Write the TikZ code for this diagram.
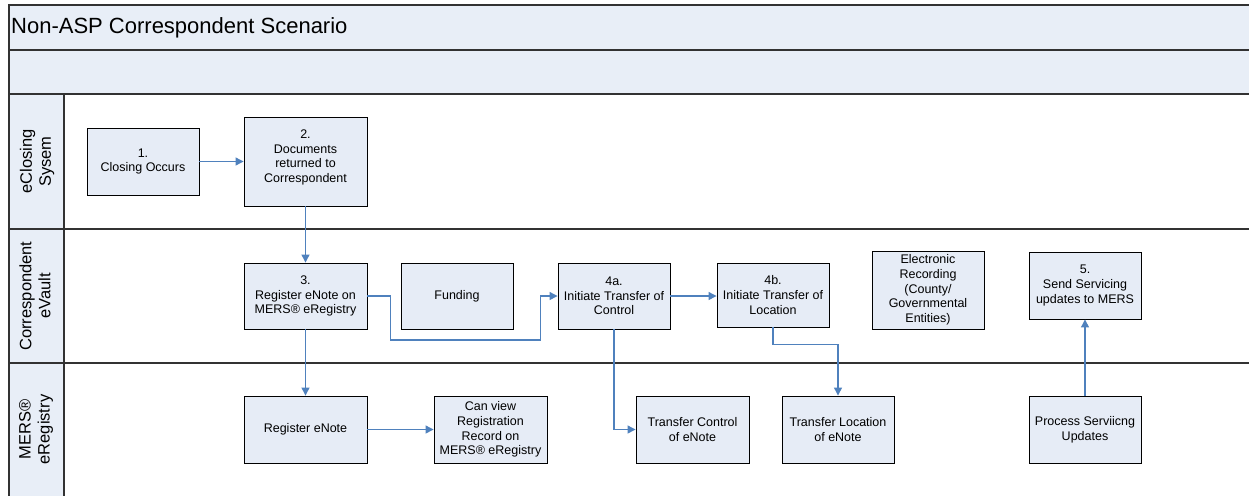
\documentclass[tikz,border=0pt]{standalone}
\usepackage{fontspec}
\setmainfont{Liberation Sans}
\usetikzlibrary{arrows.meta}
\definecolor{boxfill}{RGB}{230,236,246}
\definecolor{bandfill}{RGB}{232,238,247}
\definecolor{arrowblue}{RGB}{79,129,189}
\definecolor{frameline}{RGB}{50,50,50}
\tikzset{
  box/.style={draw=black, fill=boxfill, line width=0.9pt, align=center, inner sep=1pt,
    font=\fontsize{12.5}{14.7}\selectfont},
  lanelabel/.style={align=center, rotate=90, inner sep=0pt, font=\fontsize{16.5}{19}\selectfont},
  arr/.style={draw=arrowblue, line width=1.2pt, -{Triangle[length=8pt,width=8pt]}},
  frame/.style={draw=frameline, line width=1.3pt},
}
\begin{document}
\begin{tikzpicture}[x=1pt,y=-1pt]
\useasboundingbox (0,0) rectangle (1249,496);
% background bands
\fill[bandfill] (9,5) rectangle (1249,94);
\fill[bandfill] (9,94) rectangle (64,496);
% frame lines
\draw[frame] (1249,5) -- (9,5) -- (9,496);
\draw[frame] (9,50) -- (1249,50);
\draw[frame] (9,94) -- (1249,94);
\draw[frame] (9,229) -- (1249,229);
\draw[frame] (9,363) -- (1249,363);
\draw[frame] (64,94) -- (64,496);
% title and lane labels
\node[anchor=west, inner sep=0pt, font=\fontsize{22}{26}\selectfont] (title) at (11,27.5) {Non-ASP Correspondent Scenario};
\node[lanelabel] (lane1) at (37,161.5) {eClosing\\Sysem};
\node[lanelabel] (lane2) at (35,296) {Correspondent\\eVault};
\node[lanelabel] (lane3) at (36,429.5) {MERS®\\eRegistry};
% boxes
\node[box, minimum width=112pt, minimum height=67pt] (b1) at (143,161.5) {1.\\Closing Occurs};
\node[box, minimum width=123pt, minimum height=89pt] (b2) at (305.5,161.5) {2.\\Documents\\returned to\\Correspondent\\[-4pt]};
\node[box, minimum width=123pt, minimum height=66pt] (b3) at (305.5,296) {3.\\Register eNote on\\MERS® eRegistry};
\node[box, minimum width=112pt, minimum height=66pt] (fund) at (457,296) {Funding};
\node[box, minimum width=112pt, minimum height=66pt] (b4a) at (614,296) {4a.\\Initiate Transfer of\\Control};
\node[box, minimum width=112pt, minimum height=64pt] (b4b) at (773,295) {4b.\\Initiate Transfer of\\Location};
\node[box, minimum width=112pt, minimum height=78pt] (erec) at (928,290) {Electronic\\Recording\\(County/\\Governmental\\Entities)};
\node[box, minimum width=112pt, minimum height=67pt] (b5) at (1085,285.5) {5.\\Send Servicing\\updates to MERS};
\node[box, minimum width=123pt, minimum height=67pt] (reg) at (305.5,429.5) {Register eNote};
\node[box, minimum width=113pt, minimum height=67pt] (view) at (490.5,429.5) {Can view\\Registration\\Record on\\MERS® eRegistry};
\node[box, minimum width=113pt, minimum height=67pt] (tc) at (692.5,429.5) {Transfer Control\\of eNote};
\node[box, minimum width=112pt, minimum height=67pt] (tl) at (838,429.5) {Transfer Location\\of eNote};
\node[box, minimum width=112pt, minimum height=67pt] (proc) at (1085,429.5) {Process Serviicng\\Updates};
% connectors
\draw[arr] (b1) -- (b2);
\draw[arr] (b2) -- (b3);
\draw[arr] (b3.east) -- ++(23,0) -- ++(0,44) -| ([xshift=-17pt]b4a.west) -- (b4a.west);
\draw[arr] (b3) -- (reg);
\draw[arr] (reg) -- (view);
\draw[arr] (b4a.south) |- (tc.west);
\draw[arr] (b4a.east) -- (b4a.east -| b4b.west);
\draw[arr] (b4b.south) -- ++(0,17) -| (tl.north);
\draw[arr] (proc) -- (b5);
\end{tikzpicture}
\end{document}
